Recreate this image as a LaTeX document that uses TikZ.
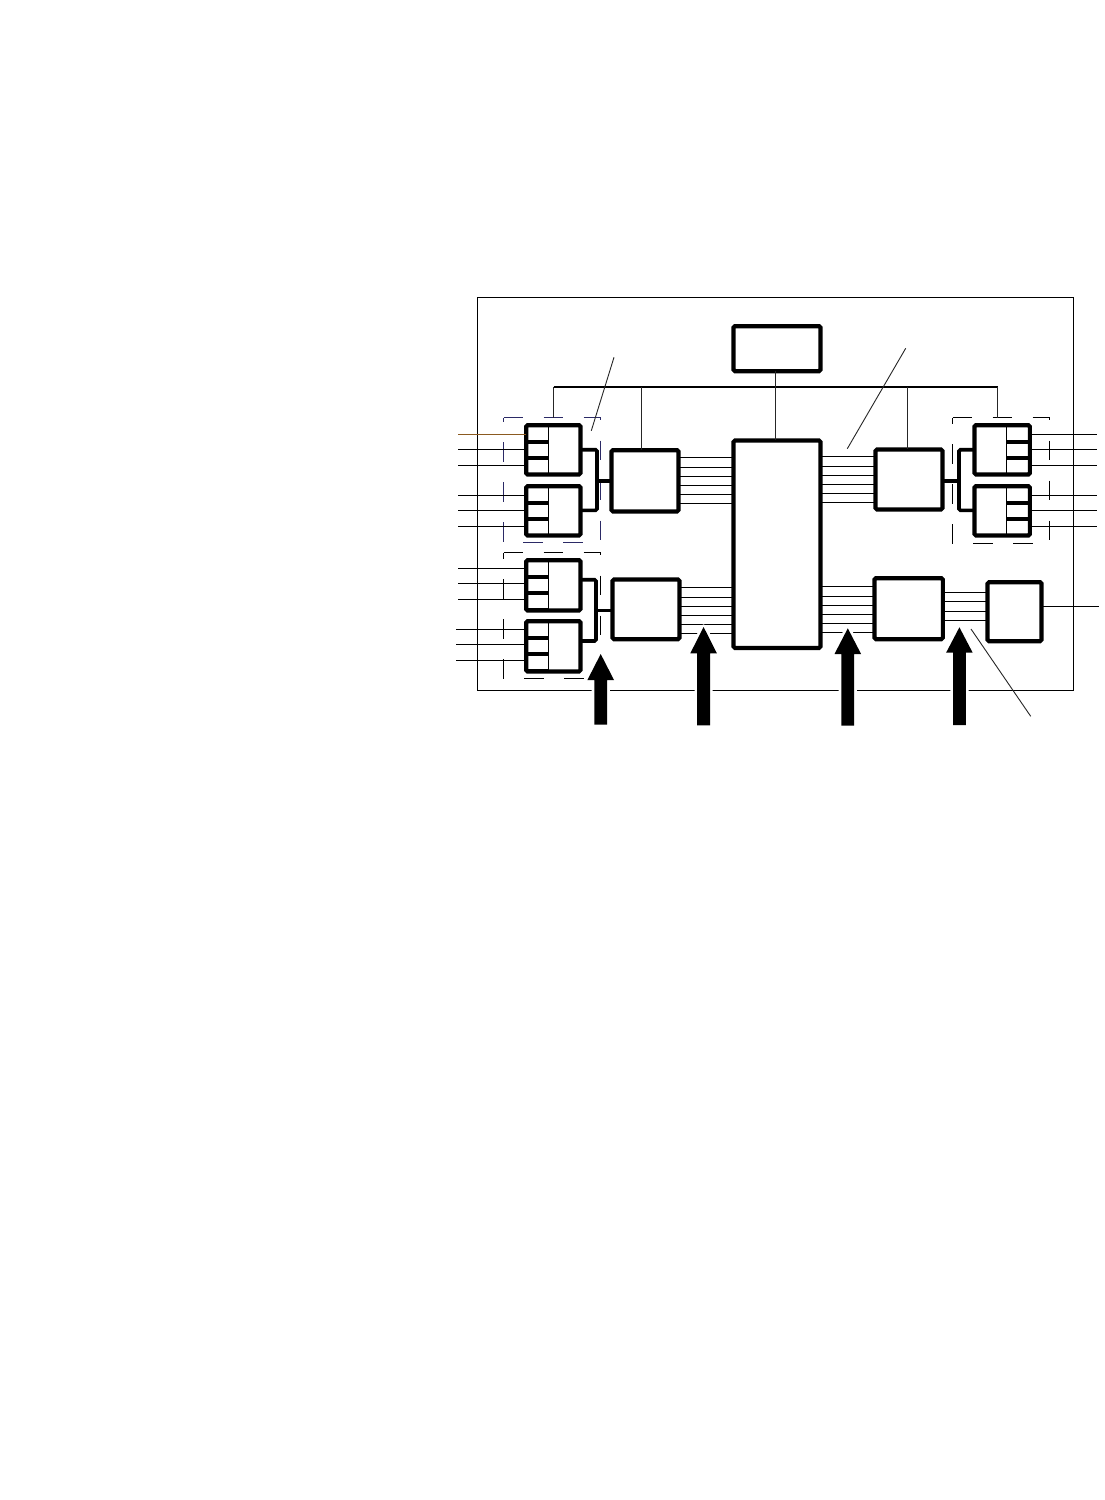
\documentclass[tikz,border=0pt]{standalone}
\definecolor{navyd}{HTML}{2B2A66}
\definecolor{brownw}{HTML}{8B5A20}
\tikzset{
  blk/.style={draw=black,fill=white,line width=4.2pt,rounded corners=1.6pt,inner sep=0pt,outer sep=0pt},
  wire/.style={draw=black,line width=1pt},
  finew/.style={draw=black,line width=1pt},
  bus/.style={draw=black,line width=1.7pt},
  feed/.style={draw=black!85,line width=1.3pt},
  sep/.style={draw=black,line width=3.8pt},
  link/.style={draw=black,line width=3.6pt,rounded corners=1.5pt},
  leader/.style={draw=black!85,line width=.9pt},
  groupbox/.style={draw=black,line width=1pt,dash pattern=on 19.6pt off 20.4pt},
  frame/.style={draw=black,line width=1pt}
}
% block given by its centre line: name, x1, y1, x2, y2 (border kept inside the outer edge)
\newcommand{\blockat}[5]{%
  \pgfmathsetmacro{\bw}{#4-#2-.9}\pgfmathsetmacro{\bh}{#5-#3-.9}%
  \pgfmathsetmacro{\bx}{(#4+#2)/2}\pgfmathsetmacro{\by}{(#5+#3)/2}%
  \node[blk,minimum width=\bw pt,minimum height=\bh pt] (#1) at (\bx,\by) {};}
% module: name, x1, x2, divider x, side (west or east), top, bottom, sep1, sep2
\newcommand{\modat}[9]{%
  \blockat{#1}{#2}{#6}{#3}{#7}%
  \draw[finew] (#1.north -| #4,0) -- (#1.south -| #4,0);%
  \draw[sep] (#1.#5 |- 0,#8) -- (#4,#8);%
  \draw[sep] (#1.#5 |- 0,#9) -- (#4,#9);}
% big arrow: centre x, tip y, head base y, bottom y, with a white halo
\newcommand{\bigarrow}[4]{%
  \path[draw=white,line width=5.4pt,line join=round]
    (#1,#2) -- (#1+13.3,#3) -- (#1+6.4,#3) -- (#1+6.4,#4) -- (#1-6.4,#4) -- (#1-6.4,#3) -- (#1-13.3,#3) -- cycle;
  \fill[black] (#1,#2) -- (#1+13.3,#3) -- (#1+6.4,#3) -- (#1+6.4,#4) -- (#1-6.4,#4) -- (#1-6.4,#3) -- (#1-13.3,#3) -- cycle;}
\begin{document}
\begin{tikzpicture}[x=1pt,y=-1pt]
\useasboundingbox (0,0) rectangle (1104,1500);
\fill[white] (0,0) rectangle (1104,1500);
% outer frame
\draw[frame] (477.5,297.5) -- (1073.5,297.5) -- (1073.5,690.5) -- (477.5,690.5) -- cycle;
% group boxes
\draw[groupbox,draw=navyd] (503.5,417.5) -- (600.5,417.5) -- (600.5,542.5) -- (503.5,542.5) -- cycle;
\draw[groupbox] (503.5,552.5) -- (600.5,552.5) -- (600.5,678.5) -- (503.5,678.5) -- cycle;
\draw[groupbox] (952.5,417.5) -- (1049.5,417.5) -- (1049.5,543.5) -- (952.5,543.5) -- cycle;
% blocks
\blockat{ctl}{733}{325.7}{821}{371.7}
\blockat{cpu}{733}{440}{821}{648.5}
\blockat{A}{611}{449.7}{679}{512}
\blockat{B}{612}{579}{680}{639.7}
\blockat{C}{875}{449}{943}{510}
\blockat{E}{874}{577.7}{943.3}{639.7}
\blockat{D}{987}{581.7}{1042}{641.7}
% modules
\modat{ma}{525.7}{581}{548.5}{west}{424.7}{475}{441.7}{458}
\modat{mb}{525.7}{581}{548.5}{west}{485.7}{536}{502.7}{518.7}
\modat{mc}{525.7}{581}{548.5}{west}{559.7}{611}{577.3}{592.7}
\modat{md}{525.7}{581}{548.5}{west}{620.7}{672}{638.3}{653.7}
\modat{me}{974}{1030.3}{1006.5}{east}{424.7}{475}{441.7}{458}
\modat{mf}{974}{1030.3}{1006.5}{east}{485.7}{536}{502.7}{518.7}
\draw[sep] (mc.west |- 0,609.6) -- (548.5,609.6);
\draw[sep] (md.west |- 0,670.6) -- (548.5,670.6);
% control bus
\coordinate (busl) at (553.5,387);
\coordinate (busr) at (997.5,387);
\coordinate (dropl) at (553.5,417.5);
\coordinate (dropr) at (997.5,417.5);
\coordinate (tapa) at (641.5,387);
\coordinate (tapc) at (907.5,387);
\coordinate (tapm) at (775.5,387);
\draw[bus] (busl) -- (busr);
\draw[feed] (busl) -- (dropl);
\draw[feed] (busr) -- (dropr);
\draw[feed] (tapa) -- (tapa |- A.north);
\draw[feed] (tapc) -- (tapc |- C.north);
\draw[feed] (tapm |- ctl.south) -- (tapm |- cpu.north);
% bus links between blocks
\foreach \y in {457.5,467.5,476.5,485.5,494.5,503.5} \draw[wire] (A.east |- 0,\y) -- (cpu.west |- 0,\y);
\foreach \y in {587.5,597.5,606.5,615.5,624.5,633.5} \draw[wire] (B.east |- 0,\y) -- (cpu.west |- 0,\y);
\foreach \y in {456.5,466.5,475.5,484.5,493.5,502.5} \draw[wire] (cpu.east |- 0,\y) -- (C.west |- 0,\y);
\foreach \y in {586.5,596.5,605.5,614.5,623.5,632.5} \draw[wire] (cpu.east |- 0,\y) -- (E.west |- 0,\y);
\foreach \y in {592.5,601.5,611.5,620.5} \draw[wire] (E.east |- 0,\y) -- (D.west |- 0,\y);
% brackets
\draw[link] (ma.east |- 0,449.7) -- (597,449.7) -- (597,510.3) -- (mb.east |- 0,510.3);
\draw[link] (597,480.7) -- (A.west |- 0,480.7);
\draw[link] (mc.east |- 0,579.7) -- (596,579.7) -- (596,641) -- (md.east |- 0,641);
\draw[link] (596,610.3) -- (B.west |- 0,610.3);
\draw[link] (me.west |- 0,449.7) -- (959,449.7) -- (959,510.3) -- (mf.west |- 0,510.3);
\draw[link] (C.east |- 0,480.7) -- (959,480.7);
% terminals
\coordinate (inl) at (458,0);
\coordinate (inm) at (456,0);
\coordinate (outr) at (1097,0);
\draw[wire,draw=brownw] (inl |- 0,434.5) -- (ma.west |- 0,434.5);
\foreach \y in {449.5,465.5} \draw[wire] (inl |- 0,\y) -- (ma.west |- 0,\y);
\foreach \y in {495.5,510.5,526.5} \draw[wire] (inl |- 0,\y) -- (mb.west |- 0,\y);
\foreach \y in {568.5,583.5,599.5} \draw[wire] (inl |- 0,\y) -- (mc.west |- 0,\y);
\foreach \y in {629.5,644.5,660.5} \draw[wire] (inm |- 0,\y) -- (md.west |- 0,\y);
\foreach \y in {434.5,449.5,465.5} \draw[wire] (me.east |- 0,\y) -- (outr |- 0,\y);
\foreach \y in {495.5,510.5,526.5} \draw[wire] (mf.east |- 0,\y) -- (outr |- 0,\y);
\coordinate (dout) at (1099,606.5);
\draw[wire] (D.east |- dout) -- (dout);
% leader lines
\coordinate (la) at (614,357.3);
\coordinate (lb) at (591.3,430.7);
\coordinate (lc) at (905.7,348.3);
\coordinate (ld) at (847.3,448.7);
\coordinate (le) at (971,629);
\coordinate (lf) at (1030.7,716.3);
\draw[leader] (la) -- (lb);
\draw[leader] (lc) -- (ld);
\draw[leader] (le) -- (lf);
% arrows
\bigarrow{600.7}{654}{680}{724.7}
\bigarrow{703.6}{627}{653.3}{725.3}
\bigarrow{847.8}{628.3}{654}{725.7}
\bigarrow{959.4}{627.3}{652.7}{725}
\end{tikzpicture}
\end{document}
